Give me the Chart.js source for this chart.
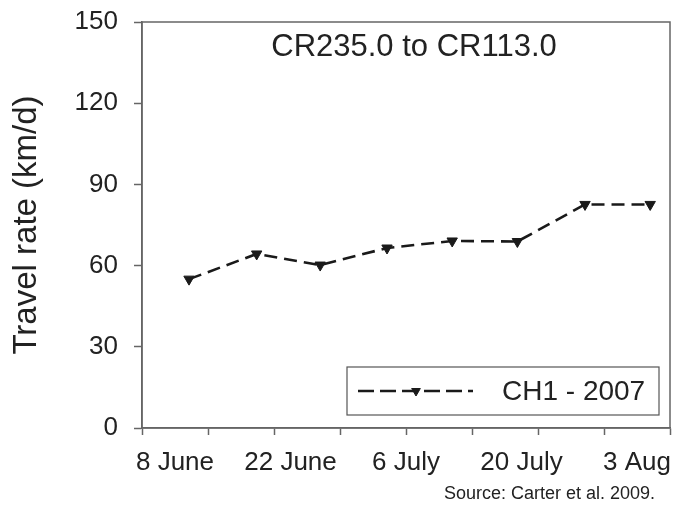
<!DOCTYPE html>
<html><head><meta charset="utf-8">
<script src="https://cdn.jsdelivr.net/npm/chart.js@4.4.0/dist/chart.umd.min.js"></script>
<style>html,body{margin:0;padding:0;background:#fff;} #wrap{width:678px;height:506px;position:relative;}</style>
</head><body><div id="wrap"><canvas id="c" width="678" height="506"></canvas></div>
<script>
const chartTitle = 'CR235.0 to CR113.0';
const seriesLabel = 'CH1 - 2007';
const sourceNote = 'Source: Carter et al. 2009.';
const yAxisTitle = 'Travel rate (km/d)';
// days after 8 June 2007
const dayOffsets = [1.7, 9.9, 17.6, 25.7, 33.6, 41.5, 49.7, 57.6];
const travelRates = [55.0, 64.3, 60.2, 66.5, 69.1, 68.9, 82.6, 82.6];
const xTickDays = [0, 14, 28, 42, 56];
const xTickLabels = ['8 June', '22 June', '6 July', '20 July', '3 Aug'];
const xMarkDays = [-4, 4, 12, 20, 28, 36, 44, 52, 60];
const yTicks = [0, 30, 60, 90, 120, 150];

const FONT = "'Liberation Sans', Arial, sans-serif";
const AXIS = '#666';
const TEXT = '#222';

const decor = {
  id: 'decor',
  afterDatasetsDraw(chart) {
    const ctx = chart.ctx, a = chart.chartArea;
    ctx.save();
    ctx.strokeStyle = AXIS; ctx.lineWidth = 1.5;
    ctx.strokeRect(a.left, a.top, a.right - a.left, a.bottom - a.top);
    // title
    ctx.fillStyle = TEXT;
    ctx.font = '31px ' + FONT;
    ctx.textAlign = 'center'; ctx.textBaseline = 'middle';
    ctx.fillText(chartTitle, (a.left + a.right) / 2 + 8, a.top + 25);
    // legend
    const lx = a.left + 205, ly = a.top + 345, lw = 312, lh = 48;
    ctx.lineWidth = 1.2; ctx.strokeStyle = '#555';
    ctx.strokeRect(lx, ly, lw, lh);
    const cy = ly + lh / 2;
    const ds = chart.data.datasets[0];
    ctx.strokeStyle = ds.borderColor; ctx.lineWidth = ds.borderWidth;
    ctx.setLineDash([16, 6]);
    ctx.beginPath(); ctx.moveTo(lx + 11, cy); ctx.lineTo(lx + 126, cy); ctx.stroke();
    ctx.setLineDash([]);
    ctx.fillStyle = ds.pointBackgroundColor;
    ctx.lineWidth = 1;
    Chart.helpers.drawPoint(ctx, {pointStyle: 'triangle', radius: 5, rotation: 180, borderWidth: 1}, lx + 69, cy);
    ctx.fillStyle = TEXT;
    ctx.font = '28px ' + FONT;
    ctx.textAlign = 'left';
    ctx.fillText(ds.label, lx + 155, cy + 1);
    // source
    ctx.font = '18px ' + FONT;
    ctx.textAlign = 'right';
    ctx.fillText(sourceNote, 655, 494);
    ctx.restore();
  }
};

new Chart(document.getElementById('c'), {
  type: 'line',
  data: {
    datasets: [{
      label: seriesLabel,
      data: dayOffsets.map((d, i) => ({x: d, y: travelRates[i]})),
      borderColor: '#1a1a1a',
      backgroundColor: '#1a1a1a',
      pointBackgroundColor: '#1a1a1a',
      pointBorderColor: '#1a1a1a',
      borderWidth: 2.6,
      borderDash: [13, 7],
      pointStyle: 'triangle',
      pointRotation: 180,
      pointRadius: 6,
      pointBorderWidth: 1,
      tension: 0,
      fill: false
    }]
  },
  options: {
    responsive: false,
    animation: false,
    events: [],
    layout: {padding: {top: 22, right: 8, left: 0, bottom: 0}},
    plugins: {legend: {display: false}, tooltip: {enabled: false}, title: {display: false}},
    scales: {
      x: {
        type: 'linear',
        min: -4, max: 60,
        afterBuildTicks(scale) {
          const vals = Array.from(new Set(xMarkDays.concat(xTickDays))).sort((p, q) => p - q);
          scale.ticks = vals.map(v => ({value: v}));
        },
        afterFit(scale) { scale.height = 78; scale.paddingLeft = 0; scale.paddingRight = 0; },
        ticks: {
          autoSkip: false, maxRotation: 0, minRotation: 0,
          padding: 12,
          color: TEXT,
          font: {family: FONT, size: 26},
          callback(v) { const i = xTickDays.indexOf(v); return i >= 0 ? xTickLabels[i] : ''; }
        },
        grid: {
          drawOnChartArea: false,
          tickLength: 7,
          tickWidth: 1.5,
          tickColor(ctx) { return ctx.tick && xMarkDays.includes(ctx.tick.value) ? AXIS : 'rgba(0,0,0,0)'; }
        },
        border: {color: AXIS, width: 1.5}
      },
      y: {
        min: 0, max: 150,
        afterBuildTicks(scale) { scale.ticks = yTicks.map(v => ({value: v})); },
        afterFit(scale) { scale.width = 142; scale.paddingTop = 0; scale.paddingBottom = 0; },
        ticks: {padding: 16, color: TEXT, font: {family: FONT, size: 26}},
        grid: {drawOnChartArea: false, tickLength: 8, tickWidth: 1.5, tickColor: AXIS},
        border: {color: AXIS, width: 1.5},
        title: {display: true, text: yAxisTitle, color: TEXT, font: {family: FONT, size: 33}, padding: {top: 7, bottom: 0}}
      }
    }
  },
  plugins: [decor]
});
</script></body></html>
